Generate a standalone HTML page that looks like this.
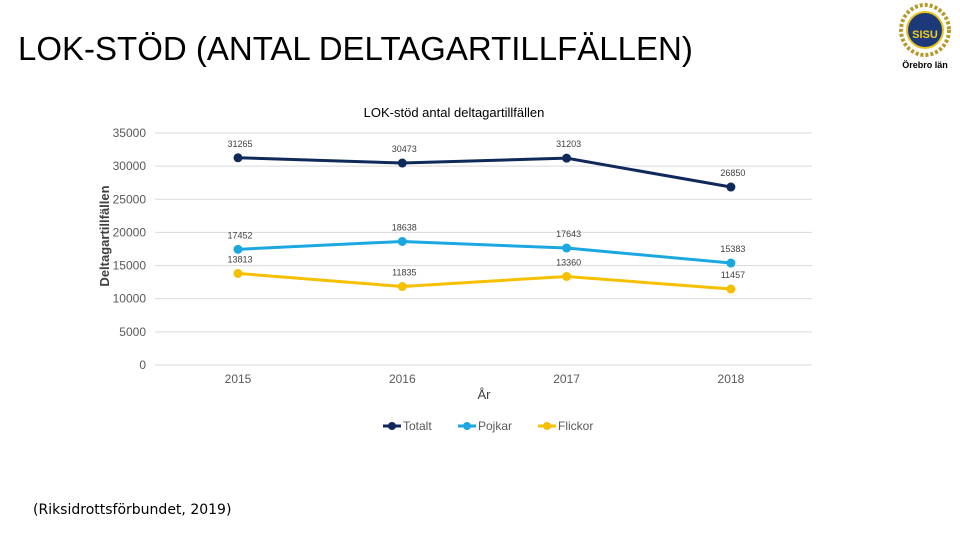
<!DOCTYPE html>
<html><head><meta charset="utf-8"><style>
body{margin:0;width:960px;height:540px;background:#fff;font-family:"Liberation Sans",sans-serif;overflow:hidden;position:relative}
.t{position:absolute}
</style></head><body>
<div class="t" style="left:18px;top:30px;font-size:33px;color:#000;white-space:nowrap">LOK-STÖD (ANTAL DELTAGARTILLFÄLLEN)</div>
<svg class="t" style="left:895px;top:2px" width="60" height="70" viewBox="0 0 60 70">
<ellipse cx="30" cy="28" rx="24" ry="25" fill="none" stroke="#b59a2a" stroke-width="4" stroke-dasharray="3 2"/>
<circle cx="30" cy="28" r="18" fill="#1c3a7a" stroke="#e8c41c" stroke-width="2"/>
<text x="30" y="36" font-size="11" font-weight="bold" fill="#f2cc1a" text-anchor="middle" font-family="Liberation Sans">SISU</text>
<text x="30" y="66" font-size="9" font-weight="bold" fill="#000" text-anchor="middle" font-family="Liberation Sans">Örebro län</text>
</svg>
<div class="t" style="left:33px;top:502px;font-size:14px;font-family:'DejaVu Sans',sans-serif">(Riksidrottsförbundet, 2019)</div>
<svg class="t" style="left:0;top:0" width="960" height="540" id="chart"></svg>
<script>
const categories=["2015","2016","2017","2018"];
const totalt=[31265,30473,31203,26850];
const pojkar=[17452,18638,17643,15383];
const flickor=[13813,11835,13360,11457];
const yTicks=[0,5000,10000,15000,20000,25000,30000,35000];
const svg=document.getElementById('chart');
const NS='http://www.w3.org/2000/svg';
const x0=155,x1=812,yTop=133,yBot=365,yMax=35000;
const y=v=>yBot-(v/yMax)*(yBot-yTop);
const x=i=>238+i*164.3;
function mk(t,a,txt){const e=document.createElementNS(NS,t);for(const k in a)e.setAttribute(k,a[k]);if(txt!==undefined)e.textContent=txt;svg.appendChild(e);return e;}
let e=mk('text',{x:454,y:117,'font-size':13,'text-anchor':'middle'},'LOK-stöd antal deltagartillfällen');


yTicks.forEach(v=>{
 let g=mk('line',{x1:x0,x2:x1,y1:y(v),y2:y(v),stroke:'#d9d9d9','stroke-width':1});
 
 
 let t=mk('text',{x:146,y:y(v)+4,'font-size':12,'text-anchor':'end',fill:'#595959'},v);
 
 
});
categories.forEach((c,i)=>{
 let t=mk('text',{x:x(i),y:383,'font-size':12,'text-anchor':'middle',fill:'#595959'},c);
 
 
});
e=mk('text',{x:484,y:399,'font-size':13,'text-anchor':'middle',fill:'#404040'},'År');


e=mk('text',{x:0,y:0,'font-size':13,'font-weight':'bold','text-anchor':'middle',fill:'#404040',transform:'translate(109,236) rotate(-90)'},'Deltagartillfällen');


const series=[['totalt',totalt,'#0f2a5a',-11],['pojkar',pojkar,'#1ba7df',-11],['flickor',flickor,'#f5c000',-11]];
series.forEach(([n,d,col,off])=>{
 let p=mk('polyline',{points:d.map((v,i)=>x(i)+','+y(v)).join(' '),fill:'none',stroke:col,'stroke-width':3});
 
 
 d.forEach((v,i)=>{
  let c=mk('circle',{cx:x(i),cy:y(v),r:4.5,fill:col});
  
  
  let t=mk('text',{x:x(i)+2,y:y(v)+off,'font-size':9,'text-anchor':'middle',fill:'#404040'},v);
  
  
 });
});
const leg=[['Totalt','#0f2a5a',383],['Pojkar','#1ba7df',458],['Flickor','#f5c000',538]];
leg.forEach(([n,col,lx])=>{
 let l=mk('line',{x1:lx,x2:lx+18,y1:426,y2:426,stroke:col,'stroke-width':3});
 
 
 let c=mk('circle',{cx:lx+9,cy:426,r:4,fill:col});
 
 
 let t=mk('text',{x:lx+20,y:430,'font-size':12,fill:'#595959'},n);
 
 
});
</script>
</body></html>
